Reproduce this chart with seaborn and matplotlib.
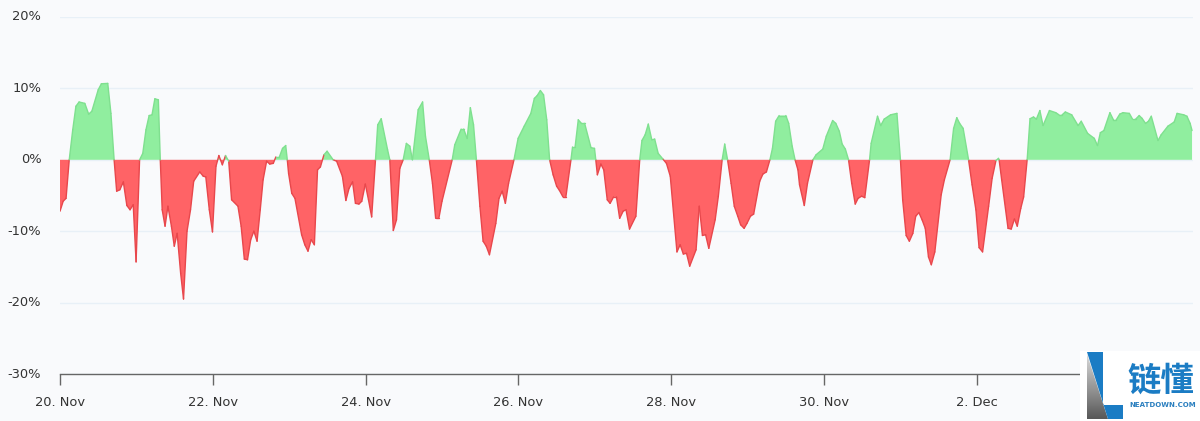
import numpy as np
import pandas as pd
import matplotlib
matplotlib.use("Agg")
import matplotlib.pyplot as plt
from matplotlib.patches import Polygon, Rectangle
import seaborn as sns

# Hours since 20 Nov 00:00 and the relative change in percent
hours_a = [0,1,1.9,2.9,4,5,6,7.8,9,10,12,13,15,16,17,17.8,18.8,19.9,21,22,23,23.9,25,26,27,28,28.9,29.8,30.9,31.5,32.1,33,33.9,35,35.9,36.8,37.9,38.8,39.9,41,42,43.9,45,45.8,46.9,47.9,49,49.9,51,52,53,53.9,55.9,56.9,57.9,58.9,59.9,60.9,61.9,62.9,63.8,64.9,65.9,67,67.8,68.9,69.9,70.9,71.4,71.8,72.8,73.8,75.9,76.9,77.9,78.9,79.9,80.9,81.8,82.9,83.9,85.8,86.9,88.7,89.8,90.8,91.9,92.8,93.9,94.8,95.9,96.9,97.9,99.1,99.8,100.9,102.9,103.6,104.7,105.7,106.75,107.8]
values_a = [-7.2,-5.8,-5.4,0,4.2,7.5,8.1,7.9,6.4,6.8,9.8,10.65,10.7,6.5,0,-4.4,-4.2,-3.1,-6.4,-7,-6.3,-14.3,0,0.9,4.2,6.2,6.3,8.55,8.4,0,-7,-9.3,-6.5,-9.3,-12.1,-10.3,-15.9,-19.5,-10,-7,-3,-1.7,-2.3,-2.4,-7,-10.1,-0.9,0.6,-0.7,0.6,-0.2,-5.6,-6.5,-9.3,-13.9,-14,-11.2,-10,-11.4,-7,-2.8,-0.2,-0.6,-0.5,0.4,0.4,1.6,2,0,-1.9,-4.7,-5.4,-10.5,-11.9,-12.8,-11.2,-11.9,-1.4,-1,0.7,1.2,0,-0.2,-2.3,-5.7,-4,-3.1,-6.1,-6.2,-5.8,-3.4,-5.6,-8,0,4.9,5.75,1.4,0,-9.9,-8.4,-1.2,0]
hours_b = [108.8,109.9,110.7,112.5,113.9,114.8,116,117,118,119,120,123.2,124,126,126.8,127.9,128.9,129.9,130.8,131.9,132.9,133.9,134.9,136.9,137.9,138.9,139.9,140.9,142.6,143.9,145.8,147.9,149,149.9,150.9,151.9,152.9,153.8,154.9,156,156.9,158,158.9,160.5,161,161.8,162.8,163.8,164.8,166.8,167.9,168.3,168.8,169.9,170.8,171.9,172.8,173.9,174.8,175.8,176.9,177.8,178.9,180.9,182.1,182.8,183.8,184.8,185.9,186.8,187.9,189.4,190.5,191.7,193.8,194.8,195.8,196.8,197.8,199.8,200.8,201.8,202.8,203.8,205.8,206.8,208,208.8,209.7,210.8,211.8,212.9,213.8,214.9,215.8,216.9,217.9,219.8,220.8,221.9,223,223.8,224.8,225.9,228,228.9,230,230.9,231.8]
values_b = [2.3,1.9,0,7,8.1,3.3,0,-3.3,-8.2,-8.2,-5.8,0,2.1,4.3,4.3,3,7.3,4.9,0,-6.5,-11.4,-12.1,-13.3,-8.9,-5.4,-4.4,-6.1,-3.3,0,3,4.7,6.5,8.6,9,9.7,9.1,5.6,0,-2.1,-3.7,-4.3,-5.2,-5.2,0,1.8,1.8,5.6,5.1,5.1,1.7,1.6,0,-2.1,-0.6,-1.4,-5.6,-6.1,-5.2,-5.2,-8.2,-7.2,-7,-9.7,-7.9,0,2.7,3.5,5,2.8,2.9,0.9,0.1,-0.5,-2.3,-12.9,-11.9,-13.2,-13.1,-14.9,-12.6,-6.5,-10.6,-10.5,-12.4,-8.4,-5.1,0,2.2,0,-3.3,-6.5,-7.9,-9.1,-9.6,-8.9,-7.9,-7.6,-3,-2,-1.7,0,1.6,5.4,6.2,6.2,5.1,1.9,0,-1.4]
hours_c = [232.3,233.8,234.8,236.5,237.5,239.6,240.7,242.7,243.7,244.8,245.7,246.7,247.7,248.7,249.8,250.7,251.8,252.8,254.3,254.8,256.8,257.8,258.9,260.9,262.9,264,264.7,265.8,266.8,267.9,268.8,269.8,270.8,271.8,272.8,273.7,274.8,276.8,277.8,279.6,280.7,281.7,282.6,283.7,285.4,286.5,287.7,288.7,289.8,291.7,292.8,294,294.8,295,295.8,297.8,298.8,299.8,300.7,301.8,302.7,303.8,304.7,305.8,306.7,307.8,308.8,310.8,312.8,313.8,314.8,315.8,317.8,319.8,320.8,322.8,324.9,325.9,326.8,327.9,329.8,330.9,331.8,332.9,333.9,335.9,336.9,337.9,339,339.9,341,341.9,342.8,344.9,345.9,348,350,350.9,353,354,355,355.6]
values_c = [-3.5,-6.4,-3.3,0,0.7,1.5,3.3,5.5,5.1,4,2.2,1.5,0,-3.3,-6.2,-5.4,-5.1,-5.3,0,2.3,6.1,4.8,5.7,6.3,6.5,0,-5.6,-10.6,-11.4,-10.3,-7.9,-7.4,-8.4,-9.6,-13.6,-14.7,-12.9,-4.9,-2.8,0,4.4,5.9,5.1,4.4,0,-3.5,-7,-12.3,-12.9,-6.5,-2.6,-0.1,0.2,0,-2.8,-9.6,-9.7,-8.3,-9.3,-6.8,-5.2,0,5.75,6,5.7,6.9,4.8,6.9,6.6,6.3,6.3,6.7,6.3,4.8,5.4,3.7,3,2,3.8,4.1,6.6,5.6,5.6,6.4,6.6,6.5,5.7,5.7,6.2,5.8,5.1,5.4,6.1,2.7,3.5,4.7,5.3,6.5,6.3,6.1,5.1,4.1]

x_ticks = [0, 48, 96, 144, 192, 240, 288]
x_tick_labels = ["20. Nov", "22. Nov", "24. Nov", "26. Nov", "28. Nov", "30. Nov", "2. Dec"]
y_ticks = [-30, -20, -10, 0, 10, 20]
y_tick_labels = ["-30%", "-20%", "-10%", "0%", "10%", "20%"]

BG = "#F9FAFC"
W, H = 1200, 421

sns.set_theme(style="white", rc={"axes.facecolor": BG, "figure.facecolor": BG})
plt.rcParams["font.family"] = ["DejaVu Sans"]

hours = np.array(hours_a + hours_b + hours_c)
values = np.array(values_a + values_b + values_c)

fig = plt.figure(figsize=(W / 100, H / 100), dpi=100)
ax = fig.add_axes([60 / W, 1 - 374 / H, (1193 - 60) / W, (374 - 17) / H])

ax.fill_between(hours, 0, values, where=values >= 0, color="#90EE9F", lw=0, zorder=2, interpolate=True)
ax.fill_between(hours, 0, values, where=values <= 0, color="#FF6366", lw=0, zorder=2, interpolate=True)

# Outline: one run per contiguous stretch on either side of zero
rows = []
run = 0
for i in range(len(hours) - 1):
    a, b = values[i], values[i + 1]
    rows.append((run, hours[i], a, "up" if (a + b) > 0 else "down"))
    rows.append((run, hours[i + 1], b, "up" if (a + b) > 0 else "down"))
    run += 1
outline = pd.DataFrame(rows, columns=["run", "hour", "value", "side"])
sns.lineplot(data=outline, x="hour", y="value", hue="side", units="run", estimator=None,
             palette={"up": "#7FE08F", "down": "#E8474C"}, lw=1.0, legend=False, ax=ax, zorder=3, sort=False)

ax.set_xlim(0, 355.9)
ax.set_ylim(-30, 20)
ax.set_xticks(x_ticks, x_tick_labels)
ax.set_yticks(y_ticks, y_tick_labels)
ax.set_xlabel("")
ax.set_ylabel("")
ax.grid(axis="y", color="#E8F0F7", lw=1)
ax.grid(axis="x", visible=False)
ax.set_axisbelow(True)
for s in ["top", "right", "left"]:
    ax.spines[s].set_visible(False)
ax.spines["bottom"].set_color("#666666")
ax.spines["bottom"].set_linewidth(1.0)
ax.tick_params(axis="x", length=8, width=1, color="#666666", labelsize=9.4, labelcolor="#333333", pad=8, bottom=True)
ax.tick_params(axis="y", length=0, labelsize=9.4, labelcolor="#333333", pad=13.5)
for lab in ax.get_yticklabels():
    lab.set_verticalalignment("center")

# Watermark logo, in pixel coordinates of the figure
ov = fig.add_axes([0, 0, 1, 1], zorder=10)
ov.set_xlim(0, W)
ov.set_ylim(H, 0)
ov.axis("off")
ov.patch.set_alpha(0)
ov.add_patch(Rectangle((1080, 351), 120, 70, color="white", lw=0))
wedge = Polygon([(1087, 354), (1108, 419), (1087, 419)], transform=ov.transData, fc="none", lw=0)
ov.add_patch(wedge)
grad = ov.imshow(np.linspace(0.85, 0.35, 64)[:, None], cmap="gray", vmin=0, vmax=1,
                 extent=(1087, 1108, 419, 354), aspect="auto", zorder=2)
grad.set_clip_path(wedge)
ov.set_xlim(0, W)
ov.set_ylim(H, 0)
ov.add_patch(Polygon([(1087, 352), (1103, 352), (1103, 405), (1123, 405), (1123, 419), (1108, 419)],
                     fc="#1B7CC4", lw=0, zorder=3))
ov.text(1161, 381, "链懂", family=["Noto Sans CJK SC", "DejaVu Sans"], fontsize=24, fontweight="bold",
        color="#1B7CC4", ha="center", va="center", zorder=4)
ov.text(1163, 405, "NEATDOWN.COM", fontsize=5.0, color="#2A7FBF", fontweight="bold",
        ha="center", va="center", zorder=4)

fig.savefig("out.png", dpi=100, facecolor=BG)
